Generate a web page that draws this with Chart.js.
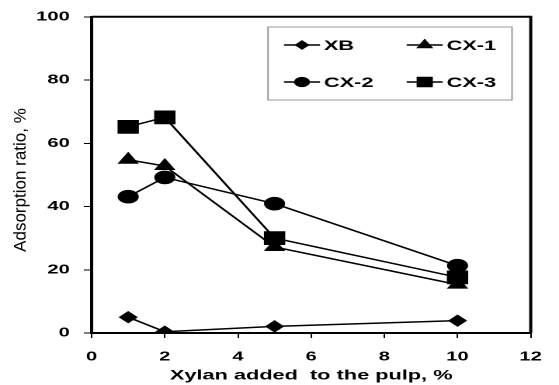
<!DOCTYPE html>
<html>
<head>
<meta charset="utf-8">
<script src="https://cdn.jsdelivr.net/npm/chart.js@4.4.1/dist/chart.umd.min.js"></script>
<style>
  html, body { margin: 0; padding: 0; background: #fff; overflow: hidden; }
  /* the original figure is stretched sideways, so the canvas is too */
  #chart { width: 360px; height: 385px; transform: scaleX(1.5528); transform-origin: 0 0; }
</style>
</head>
<body>
<canvas id="chart" width="360" height="385"></canvas>
<script>
// Data
const xylanAdded = [1, 2, 5, 10];
const seriesNames = ['XB', 'CX-1', 'CX-2', 'CX-3'];
const xbValues = [5.0, 0.4, 2.1, 3.9];
const cx1Values = [54.8, 52.8, 27.2, 15.3];
const cx2Values = [43.1, 49.2, 40.9, 21.3];
const cx3Values = [65.2, 68.2, 30.0, 17.6];
const xTicks = [0, 2, 4, 6, 8, 10, 12];
const yTicks = [0, 20, 40, 60, 80, 100];

const STRETCH = 559 / 360;
const FONT = '"Liberation Sans", Arial, sans-serif';

function toPoints(values) {
    return values.map((v, i) => ({ x: xylanAdded[i], y: v }));
}

const markerStyles = [
    { pointStyle: 'rectRot', radius: 5.5 },
    { pointStyle: 'triangle', radius: 7 },
    { pointStyle: 'circle', radius: 6.3 },
    { pointStyle: 'rect', radius: 9 }
];
const allValues = [xbValues, cx1Values, cx2Values, cx3Values];

const datasets = seriesNames.map((name, i) => ({
    label: name,
    data: toPoints(allValues[i]),
    borderColor: '#000',
    backgroundColor: '#000',
    borderWidth: 1.5,
    pointStyle: markerStyles[i].pointStyle,
    pointRadius: markerStyles[i].radius,
    pointHoverRadius: markerStyles[i].radius,
    pointBorderWidth: 1,
    tension: 0
}));

// Top and right edges of the frame
const framePlugin = {
    id: 'frame',
    afterDraw(chart) {
        const { ctx, chartArea: a } = chart;
        ctx.save();
        ctx.strokeStyle = '#000';
        ctx.lineWidth = 2;
        ctx.beginPath();
        ctx.moveTo(a.left, a.top);
        ctx.lineTo(a.right, a.top);
        ctx.lineTo(a.right, a.bottom);
        ctx.stroke();
        ctx.restore();
    }
};

// Legend box with line + marker samples, two columns
const legendPlugin = {
    id: 'boxLegend',
    afterDraw(chart) {
        const ctx = chart.ctx;
        const box = { x: 268 / STRETCH, y: 27, w: 244 / STRETCH, h: 73 };
        const cols = [284 / STRETCH, 406.7 / STRETCH];
        const rows = [45, 82];
        const lineLen = 36 / STRETCH;
        ctx.save();
        ctx.strokeStyle = '#9a9a9a';
        ctx.lineWidth = 1;
        ctx.fillStyle = '#fff';
        ctx.fillRect(box.x, box.y, box.w, box.h);
        ctx.strokeRect(box.x, box.y, box.w, box.h);
        chart.data.datasets.forEach((ds, i) => {
            const x0 = cols[i % 2];
            const y = rows[Math.floor(i / 2)];
            ctx.strokeStyle = '#000';
            ctx.lineWidth = 1.5;
            ctx.beginPath();
            ctx.moveTo(x0, y);
            ctx.lineTo(x0 + lineLen, y);
            ctx.stroke();
            ctx.fillStyle = '#000';
            Chart.helpers.drawPoint(ctx, {
                pointStyle: ds.pointStyle,
                radius: ds.pointRadius * 0.7,
                rotation: 0,
                borderWidth: 1
            }, x0 + lineLen / 2, y);
            ctx.font = 'bold 14px ' + FONT;
            ctx.textBaseline = 'middle';
            ctx.textAlign = 'left';
            ctx.fillText(ds.label, x0 + lineLen + 2.5, y + 1);
        });
        ctx.restore();
    }
};

// Y title is not stretched in the original, so undo the stretch for it
const yTitlePlugin = {
    id: 'yTitle',
    afterDraw(chart) {
        const ctx = chart.ctx;
        ctx.save();
        ctx.translate(21 / STRETCH, 180);
        ctx.scale(1 / STRETCH, 1);
        ctx.rotate(-Math.PI / 2);
        ctx.font = '17px ' + FONT;
        ctx.fillStyle = '#000';
        ctx.textAlign = 'center';
        ctx.textBaseline = 'middle';
        ctx.fillText('Adsorption ratio, %', 0, 0);
        ctx.restore();
    }
};

new Chart(document.getElementById('chart'), {
    type: 'line',
    data: { datasets: datasets },
    plugins: [framePlugin, legendPlugin, yTitlePlugin],
    options: {
        responsive: false,
        animation: false,
        devicePixelRatio: 2,
        layout: { padding: { top: 15, right: 15, left: 0, bottom: 0 } },
        plugins: {
            legend: { display: false },
            tooltip: { enabled: false }
        },
        scales: {
            x: {
                type: 'linear',
                min: xTicks[0],
                max: xTicks[xTicks.length - 1],
                afterBuildTicks: (scale) => { scale.ticks = xTicks.map(v => ({ value: v })); },
                afterFit: (scale) => { scale.height = 52; },
                border: { display: true, color: '#000', width: 2 },
                grid: { drawOnChartArea: false, drawTicks: true, tickLength: 5, color: '#000', lineWidth: 1 },
                ticks: { color: '#000', padding: 11, font: { family: FONT, size: 13, weight: 'bold' }, maxRotation: 0 },
                title: {
                    display: true,
                    text: 'Xylan added  to the pulp, %',
                    color: '#000',
                    font: { family: FONT, size: 14, weight: 'bold' },
                    padding: { top: 2, bottom: 1 }
                }
            },
            y: {
                min: yTicks[0],
                max: yTicks[yTicks.length - 1],
                afterBuildTicks: (scale) => { scale.ticks = yTicks.map(v => ({ value: v })); },
                afterFit: (scale) => { scale.width = 59; },
                border: { display: true, color: '#000', width: 2 },
                grid: { drawOnChartArea: false, drawTicks: true, tickLength: 5, color: '#000', lineWidth: 1 },
                ticks: { color: '#000', padding: 9, font: { family: FONT, size: 13, weight: 'bold' } }
            }
        }
    }
});
</script>
</body>
</html>
